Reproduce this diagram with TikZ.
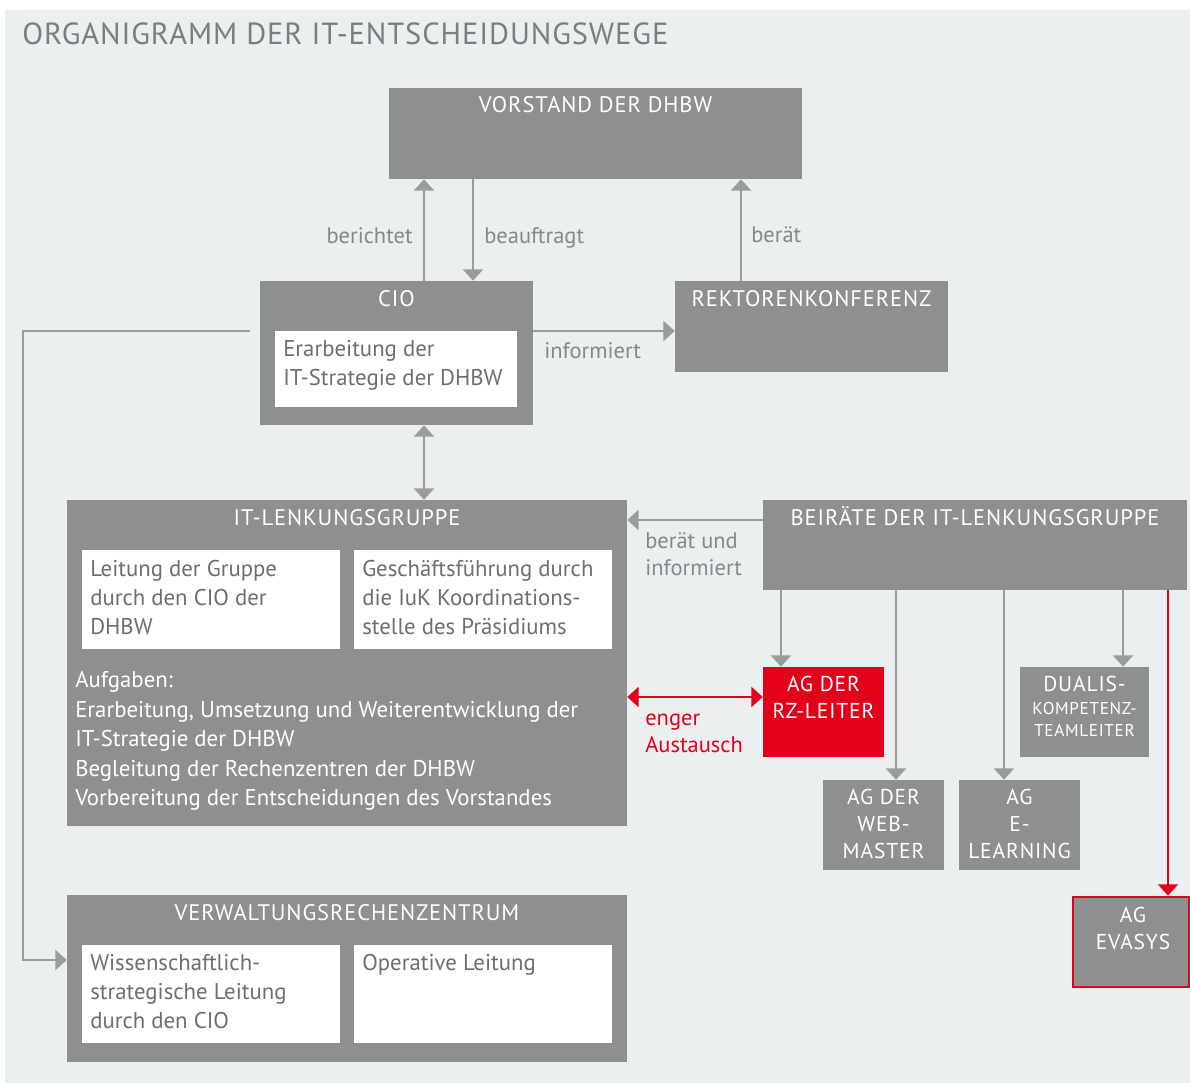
\documentclass[tikz,border=0pt]{standalone}
\usepackage{fontspec}
\setmainfont{PT Sans}
\newfontfamily\capsfont{PT Sans}[LetterSpace=4]
\newfontfamily\titlefont{PT Sans}[LetterSpace=3]
\usetikzlibrary{arrows.meta, fit, positioning}

\definecolor{boxgray}{HTML}{8E8F91}
\definecolor{paper}{HTML}{ECEFF0}
\definecolor{linegray}{HTML}{9A9B9D}
\definecolor{textgray}{HTML}{6E6E70}
\definecolor{labelgray}{HTML}{86878A}
\definecolor{titlegray}{HTML}{7C7D80}
\definecolor{dhbwred}{HTML}{E2001A}

\tikzset{
  gbox/.style={fill=boxgray, inner sep=0pt},
  wbox/.style={fill=white, inner sep=0pt},
  rbox/.style={fill=dhbwred, inner sep=0pt},
  head/.style={text=white, inner sep=0pt, anchor=base, font=\capsfont\fontsize{16}{18}\selectfont},
  small/.style={text=white, inner sep=0pt, anchor=north, align=center, font=\capsfont\fontsize{15.3}{19.2}\selectfont},
  body/.style={text=textgray, inner sep=0pt, anchor=north west, align=left, font=\fontsize{16.2}{20.7}\selectfont},
  lbl/.style={text=labelgray, inner sep=0pt, align=left, font=\fontsize{16}{19.2}\selectfont},
  tip/.style={-{Triangle[width=14pt,length=8pt]}},
  both/.style={{Triangle[width=14pt,length=8pt]}-{Triangle[width=14pt,length=8pt]}},
  link/.style={draw=linegray, line width=2.1pt, tip},
  redlink/.style={link, draw=dhbwred},
}

\begin{document}
\begin{tikzpicture}[x=0.025cm, y=-0.025cm]
  \useasboundingbox (0,0) rectangle (1190,1083);
  \fill[paper] (5,10) rectangle (1190,1083);

  \node[anchor=base west, inner sep=0pt, text=titlegray, font=\titlefont\fontsize{21.7}{24}\selectfont]
    (title) at (22,45) {ORGANIGRAMM DER IT-ENTSCHEIDUNGSWEGE};

  % oben
  \node[gbox, fit={(389,88) (802,179)}] (vorstand) {};
  \node[head] (vorstandT) at (595.5,113) {VORSTAND DER DHBW};

  \node[gbox, fit={(260,281) (533,425)}] (cio) {};
  \node[head] (cioT) at (396.5,307) {CIO};
  \node[wbox, fit={(275,331) (517,407)}] (cioIn) {};
  \node[body] (cioTxt) at (283,340) {Erarbeitung der\\IT-Strategie der DHBW};

  \node[gbox, fit={(675,281) (948,372)}] (rektoren) {};
  \node[head] (rektorenT) at (811.5,307) {REKTORENKONFERENZ};

  % Lenkungsgruppe
  \node[gbox, fit={(67,500) (627,826)}] (lenkung) {};
  \node[head] (lenkungT) at (347,525) {IT-LENKUNGSGRUPPE};
  \node[wbox, fit={(82,550) (340,649)}] (lenkA) {};
  \node[wbox, fit={(354,550) (612,649)}] (lenkB) {};
  \node[body] (lenkATxt) at (90,560) {Leitung der Gruppe\\durch den CIO der\\DHBW};
  \node[body] (lenkBTxt) at (362,560) {Geschäftsführung durch\\die IuK Koordinations-\\stelle des Präsidiums};
  \node[body, text=white, font=\fontsize{16.2}{21}\selectfont] (aufgaben) at (75,671)
    {Aufgaben:\\Erarbeitung, Umsetzung und Weiterentwicklung der\\IT-Strategie der DHBW\\Begleitung der Rechenzentren der DHBW\\Vorbereitung der Entscheidungen des Vorstandes};

  % Beiraete
  \node[gbox, fit={(763,500) (1187,590)}] (beirat) {};
  \node[head] (beiratT) at (975,525) {BEIRÄTE DER IT-LENKUNGSGRUPPE};

  \node[rbox, fit={(763,667) (884,757)}] (agrz) {};
  \node[small] (agrzT) at (823.5,676) {AG DER\\RZ-LEITER};
  \node[gbox, fit={(1020,667) (1149,757)}] (dualis) {};
  \node[small, font=\capsfont\fontsize{15.3}{16}\selectfont] (dualisT) at (1084.5,676)
    {DUALIS-\\{\fontsize{12.2}{15}\selectfont KOMPETENZ-}\\{\fontsize{12.2}{15}\selectfont TEAMLEITER}};
  \node[gbox, fit={(823,780) (944,870)}] (agweb) {};
  \node[small] (agwebT) at (883.5,789) {AG DER\\WEB-\\MASTER};
  \node[gbox, fit={(959,780) (1080,870)}] (agel) {};
  \node[small] (agelT) at (1019.5,789) {AG\\E-\\LEARNING};
  \node[gbox, draw=dhbwred, line width=2pt, fit={(1073,897) (1189,987)}] (evasys) {};
  \node[small] (evasysT) at (1133,907) {AG\\EVASYS};

  % Verwaltungsrechenzentrum
  \node[gbox, fit={(67,895) (627,1062)}] (vrz) {};
  \node[head] (vrzT) at (347,920) {VERWALTUNGSRECHENZENTRUM};
  \node[wbox, fit={(82,945) (340,1043)}] (vrzA) {};
  \node[wbox, fit={(354,945) (612,1043)}] (vrzB) {};
  \node[body] (vrzATxt) at (90,954) {Wissenschaftlich-\\strategische Leitung\\durch den CIO};
  \node[body] (vrzBTxt) at (362,954) {Operative Leitung};

  % Verbindungen
  \coordinate (colA) at (424,0);
  \coordinate (colB) at (473,0);
  \coordinate (colC) at (741,0);
  \draw[link] (colA |- cio.north) -- (colA |- vorstand.south);
  \draw[link] (colB |- vorstand.south) -- (colB |- cio.north);
  \draw[link] (colC |- rektoren.north) -- (colC |- vorstand.south);
  \node[lbl, anchor=base east] (berichtet) at (413,244) {berichtet};
  \node[lbl, anchor=base west] (beauftragt) at (484,244) {beauftragt};
  \node[lbl, anchor=base west] (beraet) at (751,243) {berät};

  \coordinate (rowInf) at (0,331);
  \draw[link] (cio.east |- rowInf) -- (rektoren.west |- rowInf);
  \node[lbl, anchor=base west] (informiert) at (544,358) {informiert};

  \draw[link, both] (colA |- cio.south) -- (colA |- lenkung.north);

  \coordinate (cioOut) at (250,331);
  \coordinate (bend) at (23,960);
  \draw[link, line width=1.5pt] (cioOut) -| (bend) -- (vrz.west |- bend);

  \coordinate (rowBei) at (0,520);
  \draw[link] (beirat.west |- rowBei) -- (lenkung.east |- rowBei);
  \node[lbl, anchor=north west] (beraetInf) at (645,532) {berät und\\informiert};

  \coordinate (rowRed) at (0,697);
  \draw[redlink, both] (lenkung.east |- rowRed) -- (agrz.west |- rowRed);
  \node[lbl, anchor=north west, text=dhbwred] (austausch) at (645,714) {enger\\Austausch};

  \foreach \xx/\target in {781/agrz, 896/agweb, 1004/agel, 1123/dualis}{
    \coordinate (drop) at (\xx,0);
    \draw[link] (drop |- beirat.south) -- (drop |- \target.north);
  }
  \coordinate (colR) at (1168,0);
  \draw[redlink] (colR |- beirat.south) -- (colR |- evasys.north);
\end{tikzpicture}
\end{document}
